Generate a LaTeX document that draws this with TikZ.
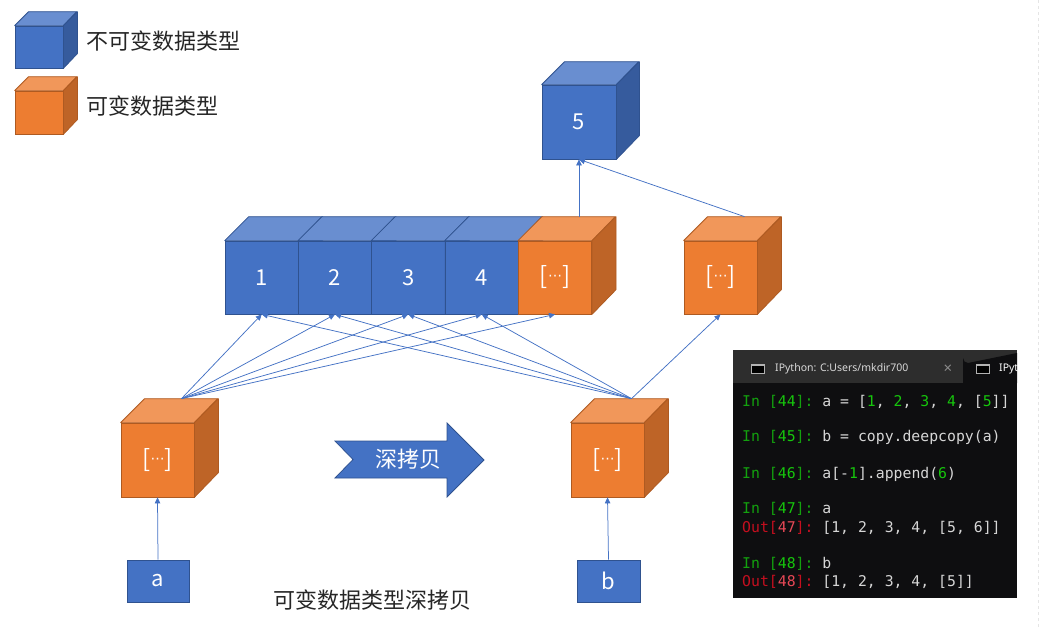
\documentclass[tikz,border=0pt]{standalone}
\usepackage{fontspec}
\setmainfont{Noto Sans CJK SC}
\setmonofont{DejaVu Sans Mono}
\newfontfamily\dejavu{DejaVu Sans}
\newfontfamily\uifont{Noto Sans}
\usetikzlibrary{arrows.meta,calc}
\definecolor{bfront}{HTML}{4472C4}
\definecolor{btop}{HTML}{698ED0}
\definecolor{bside}{HTML}{365B9D}
\definecolor{bedge}{HTML}{2F528F}
\definecolor{ofront}{HTML}{ED7D31}
\definecolor{otop}{HTML}{F1975A}
\definecolor{oside}{HTML}{BE6427}
\definecolor{oedge}{HTML}{AE5A21}
\definecolor{txt}{HTML}{262626}
\definecolor{termbar}{HTML}{2D2D2D}
\definecolor{termbg}{HTML}{0E0E10}
\definecolor{tgreen}{HTML}{13A10E}
\definecolor{tlgreen}{HTML}{16C60C}
\definecolor{tred}{HTML}{C50F1F}
\definecolor{tlred}{HTML}{E74856}
\definecolor{twhite}{HTML}{D6D6D6}
\newcommand\dotslist{{\fontsize{24}{24}\selectfont[}\raisebox{4pt}{\dejavu\fontsize{14}{14}\selectfont ⋯}{\fontsize{24}{24}\selectfont]}}
\newcommand\pin[1]{{\color{tgreen}In [}{\color{tlgreen}#1}{\color{tgreen}]:}}
\newcommand\pout[1]{{\color{tred}Out[}{\color{tlred}#1}{\color{tred}]:}}
\newcommand\gn[1]{{\color{tlgreen}#1}}
\newcommand\mycube[8]{%
  \node[draw=#7edge, fill=#7front, line width=0.75pt, minimum width=#4, minimum height=#5, inner sep=0pt, text=white, font=\fontsize{22}{26}\selectfont] (#1) at (#2,#3) {#8};
  \filldraw[draw=#7edge, fill=#7top, line width=0.75pt, line join=round] (#1.north west) -- ++(#6,-#6) -- ++(#4,0) -- (#1.north east) -- cycle;
  \filldraw[draw=#7edge, fill=#7side, line width=0.75pt, line join=round] (#1.north east) -- ++(#6,-#6) -- ++(0,#5) -- (#1.south east) -- cycle;
  \coordinate (#1-top) at ($(#1.north)+(#6,-#6)$);
}
\tikzset{
  conn/.style={draw=bfront, line width=0.75pt, -{Triangle[width=5.5pt,length=6pt]}},
  cjk/.style={font=\fontsize{22}{26}\selectfont, inner sep=0pt},
  term/.style={anchor=base west, inner sep=0pt, font=\ttfamily\fontsize{14.8}{16}\selectfont, text=twhite},
  smallbox/.style={draw=bedge, fill=bfront, line width=0.75pt, inner sep=0pt, text=white, font=\fontsize{22}{26}\selectfont},
}
\begin{document}
\begin{tikzpicture}[x=1pt,y=-1pt]
\useasboundingbox (0,0) rectangle (1039,627);
% faint dashed edge
\draw[color=black!10, dashed, line width=0.6pt] (1038,0) -- (1038,627);

% legend
\mycube{lg1}{39}{47}{48}{42}{14}{b}{}
\mycube{lg2}{39}{112.5}{48}{43}{14}{o}{}
\node[cjk, anchor=west, text=txt] (lt1) at (86,41) {不可变数据类型};
\node[cjk, anchor=west, text=txt] (lt2) at (86,106) {可变数据类型};

% top
\mycube{five}{579}{122}{74}{74}{23}{b}{5}
% row
\mycube{c1}{261.7}{277.5}{73.3}{73}{24}{b}{1}
\mycube{c2}{335}{277.5}{73.3}{73}{24}{b}{2}
\mycube{c3}{408.3}{277.5}{73.3}{73}{24}{b}{3}
\mycube{c4}{481.7}{277.5}{73.3}{73}{24}{b}{4}
\mycube{c5}{555}{277.5}{73.3}{73}{24}{o}{\dotslist}
\mycube{ro}{720.5}{277.5}{73}{73}{24}{o}{\dotslist}
% bottom cubes
\mycube{la}{157.5}{460}{73}{74}{24}{o}{\dotslist}
\mycube{lb}{607.5}{460}{73}{74}{24}{o}{\dotslist}
\node[smallbox, minimum width=62, minimum height=42] (va) at (158,581) {a};
\node[smallbox, minimum width=63, minimum height=42] (vb) at (608.5,581) {b};

% connectors
\foreach \t in {c1,c2,c3,c4,c5} \draw[conn] (la-top) -- (\t.south);
\foreach \t in {c1,c2,c3,c4,ro} \draw[conn] (lb-top) -- (\t.south);
\draw[conn] (c5-top) -- (five.south);
\draw[conn] (ro-top) -- (five.south);
\draw[conn] (va.north) -- (la.south);
\draw[conn] (vb.north) -- (lb.south);

% big arrow
\filldraw[fill=bfront, draw=bedge, line width=0.75pt, line join=miter] (335,441) -- (447,441) -- (447,423) -- (484,460) -- (447,497) -- (447,478) -- (335,478) -- (353,459.5) -- cycle;
\node[cjk, text=white] (arrowtxt) at (408,459) {深拷贝};

% caption
\node[cjk, text=txt] (cap) at (372,600) {可变数据类型深拷贝};

% terminal
\begin{scope}
\clip (733,350) rectangle (1017,598);
\fill[termbar] (733,350) rectangle (1017,383);
\fill[termbg] (733,383) rectangle (1017,598);
\fill[termbg] (963,383) -- (963,358) arc[start angle=180,end angle=90,radius=5] -- (1017,353) -- (1017,383) -- cycle;
\filldraw[draw=black!30, fill=black, line width=0.8pt] (751,364) rectangle (764,373);
\fill[black!30] (751,364) rectangle (764,366);
\node[anchor=west, inner sep=0pt, text=black!15, font=\uifont\fontsize{10.5}{12}\selectfont] (tab1) at (775,369) {IPython: C:Users/mkdir700};
\node[inner sep=0pt, text=black!45, font=\uifont\fontsize{15}{15}\selectfont] (tabx) at (948,369) {×};
\filldraw[draw=black!30, fill=black, line width=0.8pt] (976,364) rectangle (989,373);
\fill[black!30] (976,364) rectangle (989,366);
\node[anchor=west, inner sep=0pt, text=white, font=\uifont\fontsize{10.5}{12}\selectfont] (tab2) at (999,369) {IPython};
\node[term] (t1) at (742,406) {\pin{44} a = [\gn{1}, \gn{2}, \gn{3}, \gn{4}, [\gn{5}]]};
\node[term] (t2) at (742,441) {\pin{45} b = copy.deepcopy(a)};
\node[term] (t3) at (742,478) {\pin{46} a[-\gn{1}].append(\gn{6})};
\node[term] (t4) at (742,513) {\pin{47} a};
\node[term] (t5) at (742,532) {\pout{47} [1, 2, 3, 4, [5, 6]]};
\node[term] (t6) at (742,568) {\pin{48} b};
\node[term] (t7) at (742,586) {\pout{48} [1, 2, 3, 4, [5]]};
\end{scope}
\end{tikzpicture}
\end{document}
